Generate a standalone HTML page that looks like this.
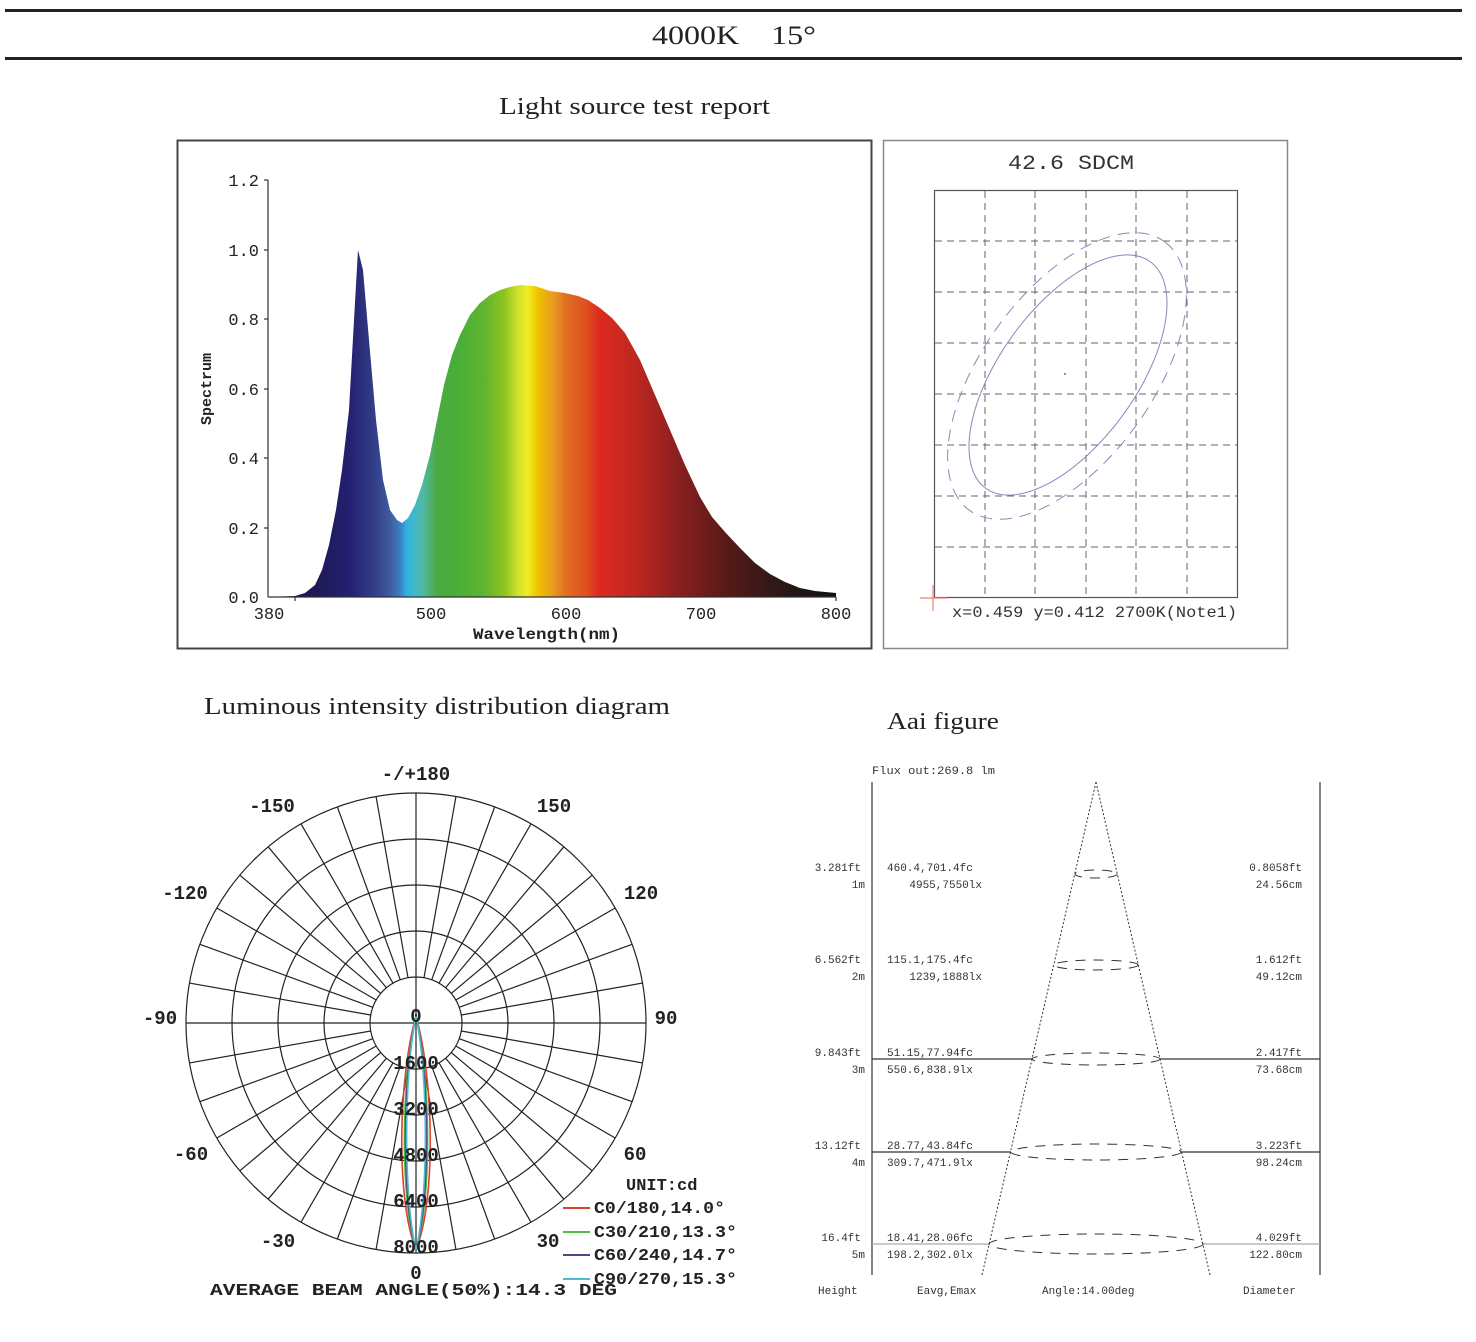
<!DOCTYPE html>
<html><head><meta charset="utf-8"><style>
html,body{margin:0;padding:0;background:#fff;}
svg{display:block;}
.m{font-family:"Liberation Mono",monospace;}
.s{font-family:"Liberation Serif",serif;}
</style></head><body>
<svg width="1476" height="1342" viewBox="0 0 1476 1342" xmlns="http://www.w3.org/2000/svg">
<defs>
<linearGradient id="sp" gradientUnits="userSpaceOnUse" x1="268" y1="0" x2="836" y2="0">
<stop offset="0" stop-color="#1a1040"/>
<stop offset="0.095" stop-color="#1f1a5a"/>
<stop offset="0.143" stop-color="#232070"/>
<stop offset="0.19" stop-color="#34408a"/>
<stop offset="0.214" stop-color="#3e5a9c"/>
<stop offset="0.233" stop-color="#3a80c0"/>
<stop offset="0.243" stop-color="#30b0e0"/>
<stop offset="0.257" stop-color="#40b8c8"/>
<stop offset="0.274" stop-color="#50b8a0"/>
<stop offset="0.298" stop-color="#4aaa40"/>
<stop offset="0.333" stop-color="#48ae38"/>
<stop offset="0.381" stop-color="#60b430"/>
<stop offset="0.417" stop-color="#90c420"/>
<stop offset="0.44" stop-color="#d0e030"/>
<stop offset="0.457" stop-color="#f0ee20"/>
<stop offset="0.476" stop-color="#f0c000"/>
<stop offset="0.5" stop-color="#e8a020"/>
<stop offset="0.524" stop-color="#e07020"/>
<stop offset="0.56" stop-color="#e05020"/>
<stop offset="0.583" stop-color="#dd2a20"/>
<stop offset="0.643" stop-color="#c02820"/>
<stop offset="0.714" stop-color="#902020"/>
<stop offset="0.81" stop-color="#551a18"/>
<stop offset="0.905" stop-color="#2a1818"/>
<stop offset="1" stop-color="#101010"/>
</linearGradient>
</defs>

<!-- header -->
<rect x="5" y="9" width="1457" height="3" fill="#222"/>
<rect x="5" y="57" width="1457" height="3" fill="#222"/>
<text x="652" y="44" class="s" font-size="26" fill="#222" textLength="164" lengthAdjust="spacingAndGlyphs">4000K&#160;&#160;&#160;&#160;15°</text>
<text x="499" y="114" class="s" font-size="24" fill="#222" textLength="271" lengthAdjust="spacingAndGlyphs">Light source test report</text>

<!-- spectrum box -->
<rect x="177.5" y="140.5" width="694" height="508" fill="none" stroke="#444" stroke-width="2"/>
<path d="M268,597 L295,596 L305,593 L315,585 L322,570 L329,545 L336,510 L342,470 L349,410 L354,320 L358,250 L363,270 L369,340 L376,420 L383,480 L390,510 L397,520 L402,523 L408,518 L415,505 L422,485 L430,455 L437,420 L444,385 L452,355 L460,335 L470,315 L480,303 L490,295 L500,290 L510,287 L520,285 L535,286 L550,291 L565,293 L578,296 L588,300 L600,308 L612,318 L625,333 L640,360 L655,395 L670,430 L685,465 L700,497 L712,517 L725,532 L740,548 L755,563 L770,574 L785,582 L800,588 L815,591 L836,593 L836,597 Z" fill="url(#sp)"/>
<g stroke="#333" stroke-width="1.2" fill="none">
<line x1="268" y1="180" x2="268" y2="597"/>
<line x1="268" y1="597" x2="836" y2="597"/>
<line x1="264" y1="180" x2="268" y2="180"/><line x1="264" y1="250" x2="268" y2="250"/><line x1="264" y1="319" x2="268" y2="319"/><line x1="264" y1="389" x2="268" y2="389"/><line x1="264" y1="458" x2="268" y2="458"/><line x1="264" y1="528" x2="268" y2="528"/>
<line x1="295" y1="597" x2="295" y2="601"/><line x1="836" y1="597" x2="836" y2="601"/>
</g>
<g class="m" font-size="17" fill="#222" text-anchor="end">
<text x="259" y="186">1.2</text><text x="259" y="256">1.0</text><text x="259" y="325">0.8</text><text x="259" y="395">0.6</text><text x="259" y="464">0.4</text><text x="259" y="534">0.2</text><text x="259" y="603">0.0</text>
</g>
<g class="m" font-size="17" fill="#222" text-anchor="middle">
<text x="269" y="619">380</text><text x="431" y="619">500</text><text x="566" y="619">600</text><text x="701" y="619">700</text><text x="836" y="619">800</text>
</g>
<text x="473" y="639" class="m" font-weight="bold" font-size="16" fill="#222" textLength="147" lengthAdjust="spacingAndGlyphs">Wavelength(nm)</text>
<text x="0" y="0" class="m" font-size="15" font-weight="bold" fill="#222" text-anchor="middle" transform="translate(211,389) rotate(-90)">Spectrum</text>

<!-- SDCM box -->
<rect x="883.5" y="140.5" width="404" height="508" fill="none" stroke="#888" stroke-width="1.5"/>
<text x="1008" y="169" class="m" font-size="20" fill="#333" textLength="126" lengthAdjust="spacingAndGlyphs">42.6 SDCM</text>
<rect x="934.5" y="190.5" width="303" height="407" fill="none" stroke="#555" stroke-width="1.2"/>
<g stroke="#666" stroke-width="1" stroke-dasharray="7,5">
<line x1="985" y1="191" x2="985" y2="597"/><line x1="1035" y1="191" x2="1035" y2="597"/><line x1="1086" y1="191" x2="1086" y2="597"/><line x1="1136" y1="191" x2="1136" y2="597"/><line x1="1187" y1="191" x2="1187" y2="597"/>
<line x1="935" y1="241" x2="1237" y2="241"/><line x1="935" y1="292" x2="1237" y2="292"/><line x1="935" y1="343" x2="1237" y2="343"/><line x1="935" y1="394" x2="1237" y2="394"/><line x1="935" y1="445" x2="1237" y2="445"/><line x1="935" y1="496" x2="1237" y2="496"/><line x1="935" y1="547" x2="1237" y2="547"/>
</g>
<ellipse cx="1068" cy="375" rx="140" ry="68" transform="rotate(-54 1068 375)" fill="none" stroke="#8888bb" stroke-width="1"/>
<ellipse cx="1067" cy="376" rx="166" ry="85" transform="rotate(-54 1067 376)" fill="none" stroke="#8888bb" stroke-width="1" stroke-dasharray="12,8"/>
<circle cx="1065" cy="374" r="1" fill="#66a"/>
<g stroke="#f08070" stroke-width="1.2"><line x1="920" y1="598" x2="947" y2="598"/><line x1="933" y1="585" x2="933" y2="611"/></g>
<text x="952" y="617" class="m" font-size="16" fill="#333" textLength="285" lengthAdjust="spacingAndGlyphs">x=0.459 y=0.412 2700K(Note1)</text>

<!-- polar -->
<text x="204" y="714" class="s" font-size="24" fill="#222" textLength="466" lengthAdjust="spacingAndGlyphs">Luminous intensity distribution diagram</text>
<g stroke="#222" stroke-width="1.2" fill="none">
<circle cx="416" cy="1023" r="46"/><circle cx="416" cy="1023" r="92"/><circle cx="416" cy="1023" r="138"/><circle cx="416" cy="1023" r="184"/><circle cx="416" cy="1023" r="230"/>
<line x1="186" y1="1023" x2="646" y2="1023"/><line x1="416" y1="793" x2="416" y2="1253"/>
</g>
<g stroke="#222" stroke-width="1.2" id="sp2"></g>
<script>
(function(){var g=document.getElementById('sp2');
var ns='http://www.w3.org/2000/svg';for(var a=0;a<360;a+=10){if(a%90==0)continue;var r=a*Math.PI/180,c=Math.cos(r),n=Math.sin(r);var l=document.createElementNS(ns,'line');l.setAttribute('x1',416+46*c);l.setAttribute('y1',1023+46*n);l.setAttribute('x2',416+230*c);l.setAttribute('y2',1023+230*n);g.appendChild(l);}})();
</script>
<g fill="none" stroke-width="1.6">
<path d="M416,1016 C398,1080 396,1200 416,1250 C436,1200 434,1080 416,1016Z" stroke="#e04030"/>
<path d="M416,1016 C401,1080 400,1200 416,1250 C432,1200 431,1080 416,1016Z" stroke="#50c040"/>
<path d="M416,1016 C402,1080 402,1200 416,1250 C430,1200 430,1080 416,1016Z" stroke="#4a4a8a"/>
<path d="M416,1016 C403,1080 404,1200 416,1250 C428,1200 429,1080 416,1016Z" stroke="#50b8d0"/>
</g>
<g class="m" font-size="19" font-weight="bold" fill="#222" text-anchor="middle">
<text x="416" y="1022">0</text><text x="416" y="1069">1600</text><text x="416" y="1115">3200</text><text x="416" y="1161">4800</text><text x="416" y="1207">6400</text><text x="416" y="1253">8000</text><text x="416" y="1279">0</text>
<text x="416" y="780">-/+180</text>
<text x="272" y="812">-150</text><text x="554" y="812">150</text>
<text x="185" y="899">-120</text><text x="641" y="899">120</text>
<text x="160" y="1024">-90</text><text x="666" y="1024">90</text>
<text x="191" y="1160">-60</text><text x="635" y="1160">60</text>
<text x="278" y="1247">-30</text><text x="548" y="1247">30</text>
</g>
<g class="m" font-size="17" font-weight="bold" fill="#222">
<text x="626" y="1190">UNIT:cd</text>
<text x="594" y="1213" textLength="131" lengthAdjust="spacingAndGlyphs">C0/180,14.0°</text>
<text x="594" y="1237" textLength="143" lengthAdjust="spacingAndGlyphs">C30/210,13.3°</text>
<text x="594" y="1260" textLength="143" lengthAdjust="spacingAndGlyphs">C60/240,14.7°</text>
<text x="594" y="1284" textLength="143" lengthAdjust="spacingAndGlyphs">C90/270,15.3°</text>
<text x="210" y="1295" textLength="407" lengthAdjust="spacingAndGlyphs">AVERAGE BEAM ANGLE(50%):14.3 DEG</text>
</g>
<g stroke-width="2"><line x1="563" y1="1208" x2="590" y2="1208" stroke="#e04030"/><line x1="563" y1="1232" x2="590" y2="1232" stroke="#50c040"/><line x1="563" y1="1255" x2="590" y2="1255" stroke="#4a4a8a"/><line x1="563" y1="1279" x2="590" y2="1279" stroke="#50b8d0"/></g>

<!-- Aai -->
<text x="887" y="729" class="s" font-size="24" fill="#222" textLength="112" lengthAdjust="spacingAndGlyphs">Aai figure</text>
<text x="872" y="774" class="m" font-size="11" fill="#333" textLength="123" lengthAdjust="spacingAndGlyphs">Flux out:269.8 lm</text>
<g stroke="#333" stroke-width="1.2">
<line x1="872" y1="782" x2="872" y2="1275"/><line x1="1320" y1="782" x2="1320" y2="1275"/>
<line x1="872" y1="1059" x2="1033" y2="1059"/><line x1="1160" y1="1059" x2="1320" y2="1059"/>
<line x1="872" y1="1152" x2="1011" y2="1152"/><line x1="1181" y1="1152" x2="1320" y2="1152"/>
<line x1="872" y1="1244" x2="990" y2="1244" stroke="#aaa"/><line x1="1203" y1="1244" x2="1320" y2="1244" stroke="#aaa"/>
</g>
<g stroke="#333" stroke-width="1" fill="none" stroke-dasharray="2,2">
<line x1="1096" y1="782" x2="982" y2="1275"/><line x1="1096" y1="782" x2="1210" y2="1275"/>
</g>
<g stroke="#333" stroke-width="1" fill="none" stroke-dasharray="10,8">
<ellipse cx="1096" cy="874" rx="21" ry="4"/><ellipse cx="1096" cy="965" rx="42" ry="5"/><ellipse cx="1096" cy="1059" rx="64" ry="6"/><ellipse cx="1096" cy="1152" rx="85" ry="8"/><ellipse cx="1096" cy="1244" rx="107" ry="10"/>
</g>
<g class="m" font-size="11" fill="#333">
<g text-anchor="end">
<text x="861" y="871">3.281ft</text><text x="865" y="888">1m</text>
<text x="861" y="963">6.562ft</text><text x="865" y="980">2m</text>
<text x="861" y="1056">9.843ft</text><text x="865" y="1073">3m</text>
<text x="861" y="1149">13.12ft</text><text x="865" y="1166">4m</text>
<text x="861" y="1241">16.4ft</text><text x="865" y="1258">5m</text>
<text x="982" y="888">4955,7550lx</text><text x="982" y="980">1239,1888lx</text>
<text x="1302" y="871">0.8058ft</text><text x="1302" y="888">24.56cm</text>
<text x="1302" y="963">1.612ft</text><text x="1302" y="980">49.12cm</text>
<text x="1302" y="1056">2.417ft</text><text x="1302" y="1073">73.68cm</text>
<text x="1302" y="1149">3.223ft</text><text x="1302" y="1166">98.24cm</text>
<text x="1302" y="1241">4.029ft</text><text x="1302" y="1258">122.80cm</text>
</g>
<text x="887" y="871">460.4,701.4fc</text><text x="887" y="963">115.1,175.4fc</text>
<text x="887" y="1056">51.15,77.94fc</text><text x="887" y="1073">550.6,838.9lx</text>
<text x="887" y="1149">28.77,43.84fc</text><text x="887" y="1166">309.7,471.9lx</text>
<text x="887" y="1241">18.41,28.06fc</text><text x="887" y="1258">198.2,302.0lx</text>
<text x="818" y="1294">Height</text><text x="917" y="1294">Eavg,Emax</text><text x="1042" y="1294">Angle:14.00deg</text><text x="1243" y="1294">Diameter</text>
</g>
</svg>
</body></html>
